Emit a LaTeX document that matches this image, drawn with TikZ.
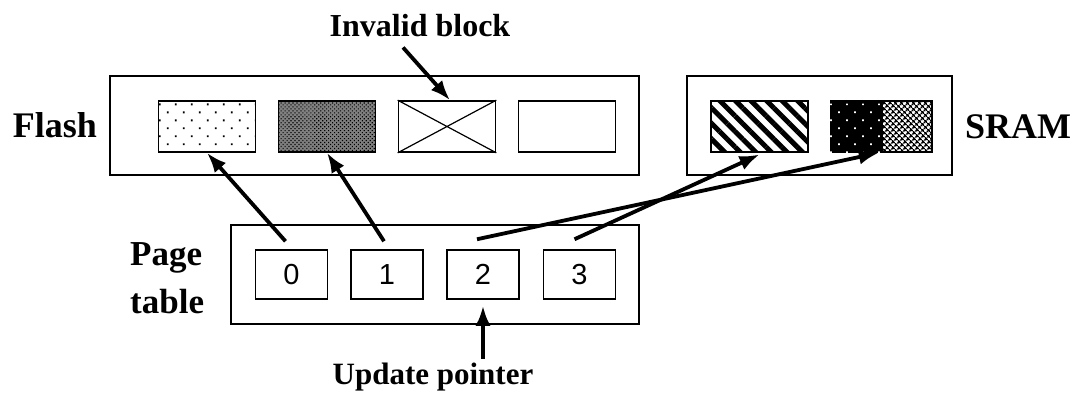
\documentclass[tikz,border=0pt]{standalone}
\usepackage{fontspec}
\setmainfont{Liberation Serif}
\newfontfamily\digitfont{Liberation Sans}
\usetikzlibrary{arrows.meta,patterns,patterns.meta,calc}
\tikzstyle{frame}=[draw,line width=1.8pt,inner sep=0pt]
\tikzstyle{block}=[draw,line width=1.6pt,minimum width=97pt,minimum height=51pt,inner sep=0pt]
\tikzstyle{entry}=[draw,line width=1.5pt,minimum width=72pt,minimum height=49pt,inner sep=0pt,font=\digitfont\fontsize{29}{29}\selectfont]
\tikzstyle{ptr}=[draw,line width=3.8pt,-{Latex[length=20pt,width=15pt]}]
\tikzstyle{title}=[inner sep=0pt,font=\bfseries\fontsize{36}{36}\selectfont]

\begin{document}
\begin{tikzpicture}[x=1pt,y=1pt]
    \useasboundingbox (0,0) rectangle (1082,392);

    % the three outer frames
    \node[frame,minimum width=529pt,minimum height=99pt] (flashbox) at (374.5,266.5) {};
    \node[frame,minimum width=265pt,minimum height=99pt] (srambox) at (819.5,266.5) {};
    \node[frame,minimum width=408pt,minimum height=99pt] (pagebox) at (435,117.5) {};

    % flash blocks
    \node[block,pattern={Dots[angle=45,distance=11.3pt,radius=1.3pt]}] (fl1) at (207,265.5) {};
    \node[block,preaction={fill=black!50},pattern={Dots[angle=45,distance=2.8pt,radius=0.8pt]}] (fl2) at (327,265.5) {};
    \node[block] (fl3) at (447,265.5) {};
    \node[block] (fl4) at (567,265.5) {};
    \draw[line width=1.2pt] (fl3.north west) -- (fl3.south east)
                            (fl3.north east) -- (fl3.south west);

    % sram blocks
    \node[block,pattern={Lines[angle=-45,distance=11pt,line width=5pt]}] (sr1) at (759.5,265.5) {};
    \node[block,minimum width=51pt,fill=black] (sr2a) at (856.5,265.5) {};
    \path[pattern color=white,pattern={Dots[angle=45,distance=11.3pt,radius=1.2pt]}]
        (sr2a.south west) rectangle (sr2a.north east);
    \node[block,minimum width=50pt,pattern={Hatch[angle=45,distance=4pt,line width=1.4pt]}] (sr2b) at (907,265.5) {};

    % page table entries
    \foreach \pos/\name/\num in {{(291.5,117.5)/pg0/0},{(387,117.5)/pg1/1},{(483,117.5)/pg2/2},{(579.5,117.5)/pg3/3}}
        \node[entry] (\name) at \pos {\num};

    % labels
    \node[title] (flash) at (55,267) {Flash};
    \node[title] (sram) at (1018,265) {SRAM};
    \node[title,font=\bfseries\fontsize{32}{32}\selectfont] (invalid) at (420,366) {Invalid block};
    \node[title,anchor=west,align=left,font=\bfseries\fontsize{35}{48}\selectfont] (pagetab) at (130,114) {Page\\table};
    \node[title,font=\bfseries\fontsize{31}{31}\selectfont] (update) at (433,15) {Update pointer};

    % pointers
    \draw[ptr] ($(invalid.south)+(-17,-10)$) -- ([xshift=3pt]fl3.north);
    \draw[ptr] ($(pg0.north)+(-6,8)$) -- (fl1.south);
    \draw[ptr] ($(pg1.north)+(-3,8)$) -- (fl2.south);
    \draw[ptr] ($(pg2.north)+(-6,10)$) -- ([xshift=-4pt]sr2a.south east);
    \draw[ptr] ($(pg3.north)+(-5,10)$) -- (sr1.south);
    \draw[ptr] ($(update.north -| pg2.south)+(0,4)$) -- ([yshift=-6pt]pg2.south);
\end{tikzpicture}
\end{document}
